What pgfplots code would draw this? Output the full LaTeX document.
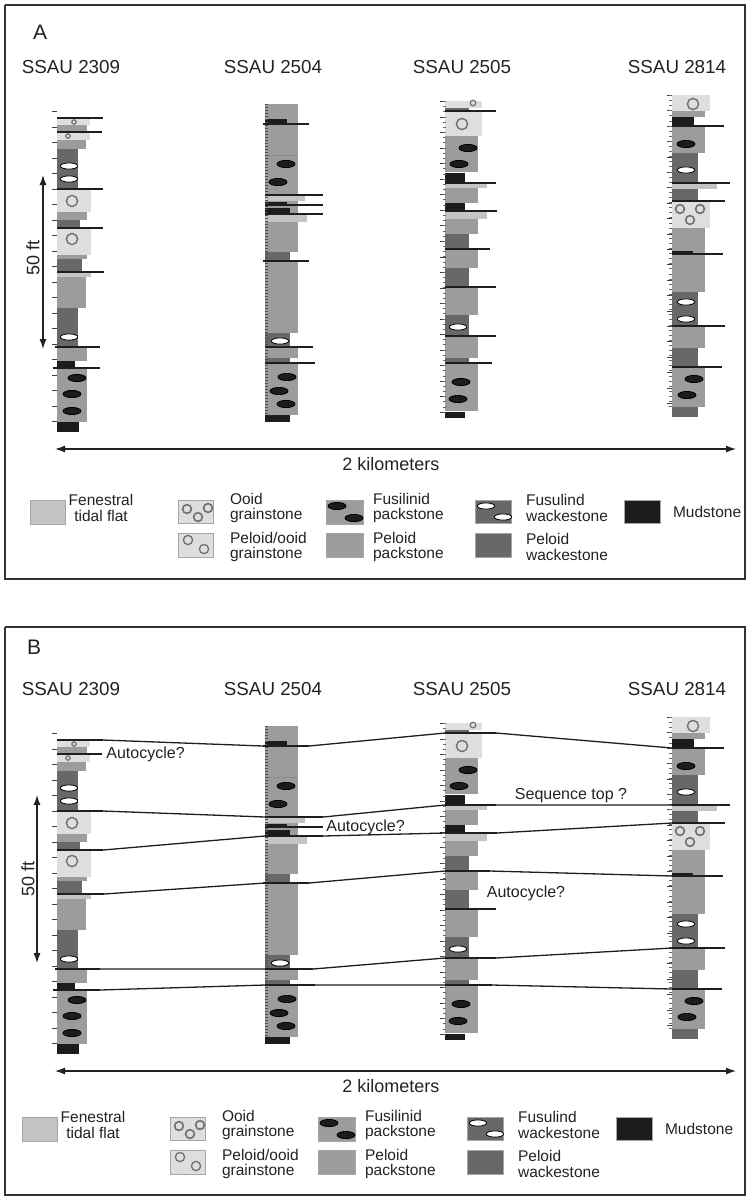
\documentclass[border=0pt]{standalone}
\usepackage{pgfplots}
\pgfplotsset{compat=1.18}
\usepackage{pgfplotstable}
\usetikzlibrary{arrows.meta}
\usepackage{fontspec}
\setmainfont{Liberation Sans}

\definecolor{lith1}{HTML}{DEDEDE}% grainstones
\definecolor{lith2}{HTML}{C4C4C4}% fenestral tidal flat
\definecolor{lith3}{HTML}{9C9C9C}% packstones
\definecolor{lith4}{HTML}{686868}% wackestones
\definecolor{lith5}{HTML}{1C1C1C}% mudstone
\definecolor{cCirc}{HTML}{707070}
\definecolor{cTxt}{HTML}{222222}
\definecolor{cLine}{HTML}{1E1E1E}

% columns: top, bottom, right edge, lithology
\pgfplotstableread{
a b r t
119 125 90 1
125 131 87 3
132 140 90 1
140 149 86 3
149 189 78 4
190 212 91 1
212 220 87 3
220 228 80 4
229 255 91 1
255 259 87 3
259 272 82 4
272 277 91 2
277 308 86 3
308 347 78 4
347 361 87 3
361 368 75 5
369 422 87 3
422 432 79 5
}\sA
\pgfplotstableread{
a b r t
104 195 298 3
119 124 287 5
195 201 305 2
201 215 298 3
202 206 287 5
208 214 290 5
215 222 307 2
222 252 298 3
252 261 290 4
261 333 298 3
333 347 290 4
347 358 298 3
358 363 290 4
363 415 298 3
415 422 290 5
}\sB
\pgfplotstableread{
a b r t
101 108 482 1
108 112 469 4
112 136 482 1
136 172 478 3
173 182 465 5
183 188 487 2
188 203 478 3
203 210 465 5
211 219 487 2
219 234 478 3
234 249 469 4
249 268 478 3
268 287 469 4
287 315 478 3
315 335 469 4
336 358 478 3
358 363 469 4
363 411 478 3
412 418 465 5
}\sC
\pgfplotstableread{
a b r t
95 111 710 1
111 117 705 3
117 125 694 5
126 153 705 3
153 183 698 4
184 189 717 2
189 200 698 4
202 228 710 1
228 253 705 3
251 254 693 5
254 292 705 3
292 325 698 4
326 348 705 3
348 367 698 4
367 407 705 3
407 417 698 4
}\sD

% bounding surfaces at each column
\pgfplotstableread{
x y
57 118
103 118
nan nan
57 132
102 132
nan nan
57 189
103 189
nan nan
57 228
103 228
nan nan
57 272
104 272
nan nan
55 347
100 347
nan nan
53 368
100 368
nan nan
263 124
309 124
nan nan
265 195
323 195
nan nan
265 205
323 205
nan nan
265 214
323 214
nan nan
263 261
309 261
nan nan
265 347
313 347
nan nan
265 363
315 363
nan nan
445 111
496 111
nan nan
445 183
496 183
nan nan
445 211
497 211
nan nan
445 249
490 249
nan nan
445 287
496 287
nan nan
445 336
496 336
nan nan
445 363
492 363
nan nan
672 126
724 126
nan nan
672 183
730 183
nan nan
672 201
725 201
nan nan
672 254
723 254
nan nan
672 326
725 326
nan nan
672 367
722 367
}\surf

% correlation lines of panel B
\pgfplotstableread{
x y
103 118
263 124
nan nan
309 124
445 111
nan nan
496 111
672 126
nan nan
103 189
265 195
nan nan
323 195
445 183
nan nan
496 183
672 183
nan nan
103 228
265 214
nan nan
323 214
445 211
nan nan
497 211
672 201
nan nan
104 272
265 261
nan nan
309 261
445 249
nan nan
490 249
672 254
nan nan
100 347
265 347
nan nan
313 347
445 336
nan nan
496 336
672 326
nan nan
100 368
265 363
nan nan
315 363
445 363
nan nan
492 363
672 367
}\corr

\newcommand\drawcol[2]{%
  \pgfplotstablegetrowsof{#1}%
  \pgfmathtruncatemacro\nrows{\pgfplotsretval-1}%
  \pgfplotsforeachungrouped \ri in {0,...,\nrows}{%
    \pgfplotstablegetelem{\ri}{a}\of#1\let\ya\pgfplotsretval
    \pgfplotstablegetelem{\ri}{b}\of#1\let\yb\pgfplotsretval
    \pgfplotstablegetelem{\ri}{r}\of#1\let\xr\pgfplotsretval
    \pgfplotstablegetelem{\ri}{t}\of#1\let\lt\pgfplotsretval
    \edef\cmd{\noexpand\addplot[draw=none,fill=lith\lt] coordinates {(#2,\ya) (\xr,\ya) (\xr,\yb) (#2,\yb)};}%
    \cmd
  }%
}

\newcommand\drawcolumns{%
  \drawcol{\sA}{57}
  \drawcol{\sB}{265}
  \drawcol{\sC}{445}
  \drawcol{\sD}{672}
  % faint boundary in 2504
  \addplot[draw=black!45, line width=0.3pt] coordinates {(265,155) (298,155)};
  % scale ticks
  \addplot[draw=black!75, line width=2.5pt, dash pattern=on 0.5pt off 7.25pt] coordinates {(54.5,111) (54.5,430)};
  \addplot[draw=black!70, line width=1.5pt, dash pattern=on 0.3pt off 1.2pt] coordinates {(266,104) (266,415)};
  \addplot[draw=black!75, line width=3pt, dash pattern=on 0.5pt off 7.275pt] coordinates {(443,101) (443,418)};
  \addplot[draw=black!60, line width=1.5pt, dash pattern=on 0.35pt off 2.24pt] coordinates {(444.5,101) (444.5,414)};
  \addplot[draw=black!75, line width=2.5pt, dash pattern=on 0.5pt off 7.2pt] coordinates {(669.5,95) (669.5,410)};
  \addplot[draw=black!60, line width=1.5pt, dash pattern=on 0.35pt off 2.2pt] coordinates {(670.5,95) (670.5,410)};
  % fusulinids
  \addplot[only marks, mark=*, mark size=1.8pt, mark options={xscale=2.5, fill=lith5, draw=none}] coordinates {
    (77,378) (72,394) (72,411) (286,164) (278,182) (287,377) (279,391) (286,404)
    (468,148) (459,164) (461,382) (458,399) (686,144) (694,379) (687,395)};
  \addplot[only marks, mark=*, mark size=1.55pt, mark options={xscale=2.8, fill=white, draw=none}] coordinates {
    (69,166) (69,179) (69,337) (280,341) (458,327) (686,170) (686,302) (686,319)};
  % peloids and ooids
  \addplot[only marks, mark=o, mark size=2.8pt, mark options={draw=cCirc, line width=0.7pt}] coordinates {
    (72,201) (72,239) (462,124) (693,104)};
  \addplot[only marks, mark=o, mark size=1.1pt, mark options={draw=cCirc, line width=0.6pt}] coordinates {
    (74,122) (68,136)};
  \addplot[only marks, mark=o, mark size=1.4pt, mark options={draw=cCirc, line width=0.6pt}] coordinates {(473,103)};
  \addplot[only marks, mark=o, mark size=2.2pt, mark options={draw=cCirc, fill=lith2, line width=0.8pt}] coordinates {
    (680,209) (700,209) (690,220)};
  % surfaces
  \addplot[draw=cLine, line width=1pt, unbounded coords=jump] table {\surf};
  % titles
  \node[font=\fontsize{9.4}{11}\selectfont, text=cTxt] at (axis cs:71,67) {SSAU 2309};
  \node[font=\fontsize{9.4}{11}\selectfont, text=cTxt] at (axis cs:273,67) {SSAU 2504};
  \node[font=\fontsize{9.4}{11}\selectfont, text=cTxt] at (axis cs:462,67) {SSAU 2505};
  \node[font=\fontsize{9.4}{11}\selectfont, text=cTxt] at (axis cs:677,67) {SSAU 2814};
  % distance
  \addplot[cTxt, line width=0.6pt, {Latex[length=5pt,width=3.5pt]}-{Latex[length=5pt,width=3.5pt]}] coordinates {(55,449) (736,449)};
  \node[font=\fontsize{9}{11}\selectfont, text=cTxt] at (axis cs:391,464) {2 kilometers};
}

\newcommand\legendbox{%
  \addplot[draw=black!35, line width=0.2pt, fill=lith2] coordinates {(30,500) (65,500) (65,524) (30,524) (30,500)};
  \addplot[draw=black!35, line width=0.2pt, fill=lith1] coordinates {(178,500) (213,500) (213,523) (178,523) (178,500)};
  \addplot[draw=black!35, line width=0.2pt, fill=lith1] coordinates {(178,533) (213,533) (213,557) (178,557) (178,533)};
  \addplot[draw=black!35, line width=0.2pt, fill=lith3] coordinates {(326,500) (363,500) (363,524) (326,524) (326,500)};
  \addplot[draw=black!35, line width=0.2pt, fill=lith3] coordinates {(326,533) (363,533) (363,557) (326,557) (326,533)};
  \addplot[draw=black!35, line width=0.2pt, fill=lith4] coordinates {(475,500) (511,500) (511,523) (475,523) (475,500)};
  \addplot[draw=black!35, line width=0.2pt, fill=lith4] coordinates {(475,533) (511,533) (511,557) (475,557) (475,533)};
  \addplot[draw=black!35, line width=0.2pt, fill=lith5] coordinates {(624,500) (660,500) (660,523) (624,523) (624,500)};
  \addplot[only marks, mark=o, mark size=2.2pt, mark options={draw=cCirc, fill=lith2, line width=0.8pt}] coordinates {
    (187,509) (208,508) (198,517)};
  \addplot[only marks, mark=o, mark size=2.3pt, mark options={draw=cCirc, line width=0.65pt}] coordinates {
    (188,540) (204,549)};
  \addplot[only marks, mark=*, mark size=1.8pt, mark options={xscale=2.5, fill=lith5, draw=none}] coordinates {
    (337,506) (354,518)};
  \addplot[only marks, mark=*, mark size=1.55pt, mark options={xscale=2.8, fill=white, draw=none}] coordinates {
    (486,506) (503,517)};
  \node[font=\fontsize{7.75}{7.6}\selectfont, text=cTxt, align=center] at (axis cs:101,508) {Fenestral\\tidal flat};
  \node[font=\fontsize{7.75}{7.6}\selectfont, text=cTxt, align=left, anchor=west] at (axis cs:223,508) {Ooid\\grainstone};
  \node[font=\fontsize{7.75}{7.6}\selectfont, text=cTxt, align=left, anchor=west] at (axis cs:223,547) {Peloid/ooid\\grainstone};
  \node[font=\fontsize{7.75}{7.6}\selectfont, text=cTxt, align=left, anchor=west] at (axis cs:366,508) {Fusilinid\\packstone};
  \node[font=\fontsize{7.75}{7.6}\selectfont, text=cTxt, align=left, anchor=west] at (axis cs:366,547) {Peloid\\packstone};
  \node[font=\fontsize{7.75}{7.6}\selectfont, text=cTxt, align=left, anchor=west] at (axis cs:519,508) {Fusulind\\wackestone};
  \node[font=\fontsize{7.75}{7.6}\selectfont, text=cTxt, align=left, anchor=west] at (axis cs:519,547) {Peloid\\wackestone};
  \node[font=\fontsize{7.75}{7.6}\selectfont, text=cTxt, anchor=west] at (axis cs:666,512) {Mudstone};
}

\pgfplotsset{panel/.style={scale only axis, hide axis, width=373.5pt, height=300pt,
  xmin=0, xmax=747, y dir=reverse, clip=false, anchor=north west}}

\begin{document}
\begin{tikzpicture}
\useasboundingbox (0,0) rectangle (373.5pt,-600pt);
% ---------------- panel A
\begin{axis}[panel, at={(0pt,0pt)}, ymin=0, ymax=600]
  \addplot[draw=black!80, line width=1pt] coordinates {(5,5) (745,5) (745,579) (5,579) (5,5)};
  \drawcolumns
  \legendbox
  \node[font=\fontsize{10.5}{12}\selectfont, text=cTxt, anchor=west] at (axis cs:26,32) {A};
  \addplot[cTxt, line width=0.6pt, {Latex[length=5pt,width=3.5pt]}-{Latex[length=5pt,width=3.5pt]}] coordinates {(43,175) (43,349)};
  \node[font=\fontsize{9}{11}\selectfont, text=cTxt, rotate=90] at (axis cs:33,258) {50 ft};
\end{axis}
% ---------------- panel B
\begin{axis}[panel, at={(0pt,-300pt)}, ymin=-22, ymax=578]
  \addplot[draw=black!80, line width=1pt] coordinates {(5,5) (745,5) (745,573) (5,573) (5,5)};
  \drawcolumns
  \addplot[draw=cLine, line width=0.65pt, unbounded coords=jump] table {\corr};
  \node[font=\fontsize{8}{10}\selectfont, text=cTxt, anchor=west, inner sep=1pt] at (axis cs:104,132) {Autocycle?};
  \node[font=\fontsize{8}{10}\selectfont, text=cTxt, anchor=west, inner sep=1pt] at (axis cs:324,205) {Autocycle?};
  \node[font=\fontsize{8}{10}\selectfont, text=cTxt] at (axis cs:571,174) {Sequence top ?};
  \node[font=\fontsize{8}{10}\selectfont, text=cTxt] at (axis cs:526,271) {Autocycle?};
  \node[font=\fontsize{10.5}{12}\selectfont, text=cTxt, anchor=west] at (axis cs:20,25) {B};
  \addplot[cTxt, line width=0.6pt, {Latex[length=5pt,width=3.5pt]}-{Latex[length=5pt,width=3.5pt]}] coordinates {(37,173) (37,341)};
  \node[font=\fontsize{9}{11}\selectfont, text=cTxt, rotate=90] at (axis cs:28,257) {50 ft};
\end{axis}
% legend of panel B sits a little left and up
\begin{axis}[panel, at={(0pt,-300pt)}, xmin=8, xmax=755, ymin=-17, ymax=583]
  \legendbox
\end{axis}
\end{tikzpicture}
\end{document}
